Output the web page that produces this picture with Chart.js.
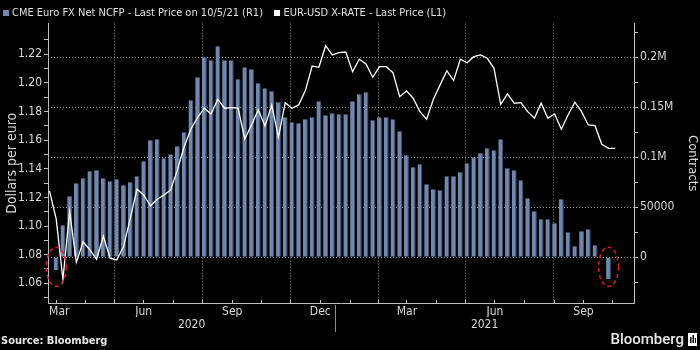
<!DOCTYPE html>
<html>
<head>
<meta charset="utf-8">
<script src="https://cdn.jsdelivr.net/npm/chart.js@4.4.1/dist/chart.umd.min.js"></script>
<style>
  html, body { margin: 0; padding: 0; background: #000; }
  #wrap { width: 700px; height: 350px; }
</style>
</head>
<body>
<div id="wrap"><canvas id="chart"></canvas></div>
<script>
const FONT = "'DejaVu Sans Condensed', 'Liberation Sans Narrow', 'DejaVu Sans', sans-serif"
Chart.defaults.font.family = FONT
Chart.defaults.color = '#d9d9d9'

const legendLabels = ['CME Euro FX Net NCFP - Last Price on 10/5/21 (R1)', 'EUR-USD X-RATE - Last Price (L1)']

// CME Euro FX net non-commercial positions, contracts, weekly
const netFirstWeek = '2020-03-17'
const netPositions = [
  -12700, 32000, 61000, 74000, 79000, 86000, 87000, 79000, 76000, 78000,
  72000, 75000, 81000, 96000, 117000, 118000, 99000, 103000, 111000, 125000,
  157000, 180000, 200000, 197000, 211000, 197000, 197000, 178000, 190000, 188000,
  174000, 169000, 166000, 155000, 140000, 135000, 134000, 138000, 140000, 156000,
  142000, 144000, 143000, 143000, 156000, 163000, 165000, 137000, 140000, 140000,
  138000, 126000, 102000, 90000, 93000, 73000, 68000, 67000, 81000, 81000,
  85000, 94000, 100000, 104000, 109000, 107000, 118000, 89000, 87000, 77000,
  59000, 46000, 38000, 38000, 34000, 58000, 25000, 11000, 26000, 28000,
  12000, 500, -22000
]

// EUR-USD, weekly
const rateFirstWeek = '2020-03-10'
const eurUsd = [
  1.1245, 1.105, 1.0628, 1.110, 1.0747, 1.089, 1.0833, 1.0768, 1.093, 1.0775,
  1.0763, 1.0856, 1.1054, 1.1257, 1.1217, 1.114, 1.1187, 1.1217, 1.1252, 1.1392,
  1.1554, 1.1676, 1.176, 1.1823, 1.1783, 1.1886, 1.1823, 1.1827, 1.1823, 1.1608,
  1.1706, 1.1811, 1.1699, 1.1844, 1.162, 1.1862, 1.1823, 1.1846, 1.1946, 1.2118,
  1.2109, 1.226, 1.2195, 1.2211, 1.2216, 1.2078, 1.2165, 1.2132, 1.2039, 1.2113,
  1.2113, 1.2071, 1.1904, 1.1944, 1.1893, 1.1799, 1.1746, 1.1886, 1.1986, 1.2085,
  1.2016, 1.2165, 1.2141, 1.2183, 1.2195, 1.2172, 1.2102, 1.185, 1.1923, 1.1858,
  1.1862, 1.1799, 1.1753, 1.1858, 1.1753, 1.1783, 1.1676, 1.1776, 1.1865, 1.1799,
  1.1706, 1.1701, 1.1571, 1.1543, 1.1543
]

const monthNames = ['Jan', 'Feb', 'Mar', 'Apr', 'May', 'Jun', 'Jul', 'Aug', 'Sep', 'Oct', 'Nov', 'Dec']
const labelledMonths = ['Mar', 'Jun', 'Sep', 'Dec']
const years = [2020, 2021]

const rateTickValues = [1.06, 1.08, 1.10, 1.12, 1.14, 1.16, 1.18, 1.20, 1.22]
const rateTickLabels = ['1.06', '1.08', '1.10', '1.12', '1.14', '1.16', '1.18', '1.20', '1.22']
const rateMinorTicks = [1.05, 1.07, 1.09, 1.11, 1.13, 1.15, 1.17, 1.19, 1.21, 1.23]

const contractTickValues = [0, 50000, 100000, 150000, 200000]
const contractTickLabels = ['0', '50000', '0.1M', '0.15M', '0.2M']
const contractMinorTicks = [-25000, 25000, 75000, 125000, 175000, 225000]

// x axis is in days counted from 1 Jan 2021
const EPOCH = Date.UTC(2021, 0, 1)
const dayOf = (y, m, d) => (Date.UTC(y, m, d) - EPOCH) / 864e5
const X_MIN = -298.5
const X_MAX = 310.5
const C_MIN = -45700
const C_MAX = 233800
const GRID = '#8f8f8f'
const AXIS = '#bfbfbf'

function weekly(start, values) {
  const [y, m, d] = start.split('-').map(Number)
  const base = dayOf(y, m - 1, d)
  return values.map((v, i) => ({ x: base + 7 * i, y: v }))
}

// month starts, quarter starts and mid-month label positions inside the visible range
function monthTicks(kind) {
  const ticks = []
  years.forEach(y => {
    for (let m = 0; m < 12; m++) {
      const start = dayOf(y, m, 1)
      const end = dayOf(y, m + 1, 1)
      if (end <= X_MIN || start >= X_MAX) continue
      if (kind === 'start' && start > X_MIN) ticks.push({ value: start, text: '' })
      if (kind === 'quarter' && start > X_MIN && m % 3 === 0) ticks.push({ value: start, text: '' })
      if (kind === 'label' && labelledMonths.includes(monthNames[m])) {
        ticks.push({ value: (Math.max(start, X_MIN) + Math.min(end, X_MAX)) / 2, text: monthNames[m] })
      }
    }
  })
  return ticks
}

function yearTicks() {
  return years.map(y => ({
    value: (Math.max(dayOf(y, 0, 1), X_MIN) + Math.min(dayOf(y + 1, 0, 1), X_MAX)) / 2,
    text: String(y)
  }))
}

function axisTicks(values, labels, minor) {
  return values.map((v, i) => ({ value: v, text: labels[i] }))
    .concat(minor.map(v => ({ value: v, text: '' })))
    .sort((a, b) => a.value - b.value)
}

const tickText = (v, i, ticks) => ticks[i].text || ''

// helper axes carrying only tick marks or grid lines, no room taken
function bareAxis(position, weight, min, max, ticksFn, grid) {
  return {
    type: 'linear', position, weight, min, max, offset: false,
    afterBuildTicks: s => { s.ticks = ticksFn() },
    afterFit: s => { if (s.isHorizontal()) s.height = 0; else s.width = 0 },
    ticks: { display: false, autoSkip: false },
    border: { display: false, dash: [1, 2] },
    grid
  }
}

const decorations = {
  id: 'decorations',
  beforeDraw(chart) {
    const { ctx, width, height } = chart
    ctx.save()
    ctx.fillStyle = '#000'
    ctx.fillRect(0, 0, width, height)
    ctx.restore()
  },
  beforeDatasetsDraw(chart) { // dotted horizontal grid at the contracts ticks
    const { ctx, chartArea } = chart
    const scale = chart.scales.y1
    ctx.save()
    ctx.strokeStyle = GRID
    ctx.lineWidth = 1
    ctx.setLineDash([1, 2])
    contractTickValues.forEach(v => {
      const py = Math.round(scale.getPixelForValue(v)) + 0.5
      ctx.beginPath()
      ctx.moveTo(chartArea.left, py)
      ctx.lineTo(chartArea.right, py)
      ctx.stroke()
    })
    ctx.restore()
  },
  afterDatasetsDraw(chart) { // red dashed rings round the first and last bar
    const { ctx } = chart
    const bars = chart.getDatasetMeta(1).data
    const zero = chart.scales.y1.getPixelForValue(0)
    ctx.save()
    ctx.strokeStyle = '#e3122d'
    ctx.lineWidth = 1.5
    ctx.setLineDash([4, 3])
    ;[bars[0], bars[bars.length - 1]].forEach(bar => {
      ctx.beginPath()
      ctx.ellipse(bar.x, zero + 9.5, 10, 19.5, 0, 0, Math.PI * 2)
      ctx.stroke()
    })
    ctx.restore()
  },
  afterDraw(chart) {
    const { ctx, chartArea } = chart
    ctx.save()

    // legend
    ctx.font = '11px ' + FONT
    ctx.textBaseline = 'middle'
    ctx.fillStyle = '#7088ae'
    ctx.fillRect(3, 10, 6, 6)
    ctx.fillStyle = '#e0e0e0'
    ctx.fillText(legendLabels[0], 12, 13)
    const x2 = 12 + ctx.measureText(legendLabels[0]).width + 11
    ctx.fillStyle = '#ffffff'
    ctx.fillRect(x2, 10, 6, 6)
    ctx.fillStyle = '#e0e0e0'
    ctx.fillText(legendLabels[1], x2 + 9.5, 13)

    // year separator
    const sx = Math.round(chart.scales.x.getPixelForValue(dayOf(2021, 0, 1))) + 0.5
    ctx.strokeStyle = '#8c8c8c'
    ctx.lineWidth = 1
    ctx.beginPath()
    ctx.moveTo(sx, chartArea.bottom + 2)
    ctx.lineTo(sx, 332)
    ctx.stroke()

    // source and wordmark
    ctx.fillStyle = '#e6e6e6'
    ctx.font = 'bold 11px ' + FONT
    ctx.textAlign = 'left'
    ctx.fillText('Source: Bloomberg', 1, 341)
    ctx.font = '500 15px Roboto, ' + FONT
    ctx.textAlign = 'right'
    ctx.fillText('Bloomberg', 684, 340)
    ctx.fillStyle = '#ffffff'
    ctx.fillRect(688, 333, 9, 13)
    ctx.fillStyle = '#000'
    ctx.fillRect(690, 337, 1.5, 6)
    ctx.fillRect(692.5, 335, 1.5, 8)
    ctx.fillRect(695, 338, 1, 5)
    ctx.restore()
  }
}

new Chart(document.getElementById('chart'), {
  type: 'bar',
  data: {
    datasets: [{
      type: 'line',
      label: legendLabels[1],
      data: weekly(rateFirstWeek, eurUsd),
      xAxisID: 'x',
      yAxisID: 'y',
      borderColor: '#ffffff',
      borderWidth: 1.3,
      pointRadius: 0,
      tension: 0,
      order: 0
    }, {
      type: 'bar',
      label: legendLabels[0],
      data: weekly(netFirstWeek, netPositions),
      xAxisID: 'x',
      yAxisID: 'y1',
      backgroundColor: '#7088ae',
      borderColor: '#46577a',
      borderWidth: { top: 0, right: 1, bottom: 0, left: 0 },
      barPercentage: 0.72,
      categoryPercentage: 1,
      order: 1
    }]
  },
  options: {
    responsive: true,
    maintainAspectRatio: false,
    animation: false,
    layout: { padding: { top: 23.5, bottom: 20, left: 0, right: 0 } },
    plugins: {
      legend: { display: false },
      tooltip: { enabled: false }
    },
    scales: {
      // quarter grid lines
      xq: bareAxis('bottom', -2, X_MIN, X_MAX, () => monthTicks('quarter'),
        { drawOnChartArea: true, drawTicks: false, color: GRID, lineWidth: 1 }),
      // month tick marks pointing up into the plot
      xm: bareAxis('bottom', -1, X_MIN, X_MAX, () => monthTicks('start'),
        { drawOnChartArea: false, drawTicks: true, tickLength: -3, tickColor: AXIS }),
      x: {
        type: 'linear',
        position: 'bottom',
        weight: 0,
        min: X_MIN,
        max: X_MAX,
        offset: false,
        afterBuildTicks: s => { s.ticks = monthTicks('label') },
        afterFit: s => { s.height = 14 },
        grid: { offset: false, drawOnChartArea: false, drawTicks: false },
        border: { display: true, color: AXIS },
        ticks: { autoSkip: false, maxRotation: 0, padding: 2, font: { size: 12 }, color: '#d9d9d9', callback: tickText }
      },
      x2: {
        type: 'linear',
        position: 'bottom',
        weight: 1,
        min: X_MIN,
        max: X_MAX,
        offset: false,
        afterBuildTicks: s => { s.ticks = yearTicks() },
        afterFit: s => { s.height = 13 },
        grid: { display: false, drawTicks: false },
        border: { display: false },
        ticks: { autoSkip: false, maxRotation: 0, padding: 1, font: { size: 12 }, color: '#d9d9d9', callback: tickText }
      },
      y: {
        type: 'linear',
        position: 'left',
        min: 1.0462,
        max: 1.2415,
        afterBuildTicks: s => { s.ticks = axisTicks(rateTickValues, rateTickLabels, rateMinorTicks) },
        afterFit: s => { s.width = 48 },
        grid: { drawOnChartArea: false, drawTicks: true, tickLength: 4, tickColor: AXIS },
        border: { color: AXIS },
        ticks: { autoSkip: false, padding: 2, font: { size: 12 }, color: '#d9d9d9', callback: tickText },
        title: { display: true, text: 'Dollars per euro', font: { size: 14 }, color: '#d9d9d9', padding: { top: 4, bottom: 0 } }
      },
      // minor tick marks of the contracts axis
      y1m: bareAxis('right', -1, C_MIN, C_MAX, () => contractMinorTicks.map(v => ({ value: v, text: '' })),
        { drawOnChartArea: false, drawTicks: true, tickLength: 4, tickColor: AXIS }),
      y1: {
        type: 'linear',
        position: 'right',
        weight: 0,
        min: C_MIN,
        max: C_MAX,
        afterBuildTicks: s => { s.ticks = contractTickValues.map((v, i) => ({ value: v, text: contractTickLabels[i] })) },
        afterFit: s => { s.width = 66 },
        grid: { drawOnChartArea: false, drawTicks: true, tickLength: 4, tickColor: AXIS },
        border: { color: AXIS },
        ticks: { autoSkip: false, padding: 2, font: { size: 12 }, color: '#d9d9d9', callback: tickText },
        title: { display: true, text: 'Contracts', font: { size: 13 }, color: '#d9d9d9', padding: { top: 0, bottom: 0 } }
      }
    }
  },
  plugins: [decorations]
})
</script>
</body>
</html>
